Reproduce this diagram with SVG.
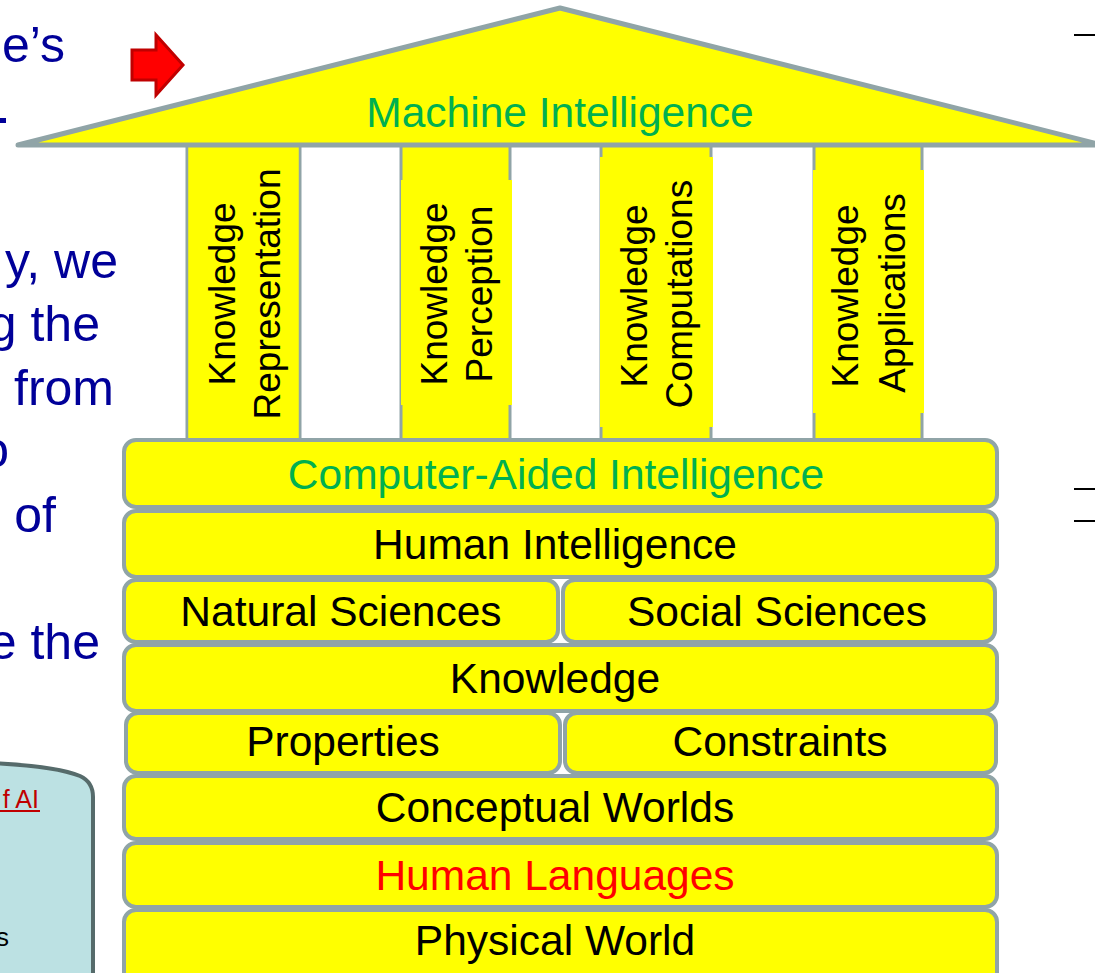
<svg xmlns="http://www.w3.org/2000/svg" width="1095" height="973" viewBox="0 0 1095 973">
<style>
.t{font-family:"Liberation Sans",Arial,sans-serif;}
.row{fill:#FFFF00;stroke:#90A4A7;stroke-width:4;}
.rt{font-size:42.5px;fill:#000;text-anchor:middle;}
.pt{font-size:37px;fill:#000;text-anchor:middle;}
.pil{fill:#FFFF00;stroke:#90A4A7;stroke-width:3;}
.ov{fill:#FFFF00;}
.side{font-size:50px;fill:#000099;text-anchor:end;}
</style>
<rect width="1095" height="973" fill="#FFFFFF"/>
<g id="left-text" class="t">
<text class="side" x="65" y="62">e’s</text>
<rect x="0" y="118" width="6" height="5" fill="#000099"/>
<text class="side" x="118" y="278">y, we</text>
<text class="side" x="100" y="341">g the</text>
<text class="side" x="114" y="405">from</text>
<text class="side" x="9" y="467">o</text>
<text class="side" x="56" y="532">of</text>
<text class="side" x="100" y="659">e the</text>
</g>
<g id="side-box">
<path d="M -10 763 Q 55 766 80 776 Q 93 782 93 797 L 93 980 L -10 980 Z" fill="#BCE1E3" stroke="#566B6B" stroke-width="4"/>
<text class="t" x="39" y="808" font-size="25" fill="#C00000" text-anchor="end">f AI</text>
<rect x="0" y="810" width="40" height="2" fill="#C00000"/>
<text class="t" x="9" y="946" font-size="26" fill="#000" text-anchor="end">s</text>
</g>
<g id="arrow">
<path d="M 132 50 L 156 50 L 156 35 L 183 65 L 156 95 L 156 80 L 132 80 Z" fill="#FF0000" stroke="#C00000" stroke-width="3" stroke-linejoin="miter"/>
</g>
<g id="right-marks" stroke="#000" stroke-width="2">
<line x1="1074" y1="35" x2="1095" y2="35"/>
<line x1="1074" y1="489" x2="1095" y2="489"/>
<line x1="1074" y1="521" x2="1095" y2="521"/>
</g>
<g id="pillar-representation">
<rect class="pil" x="187" y="145" width="113" height="295"/>
<rect class="ov" x="188.5" y="147" width="110" height="291"/>
<text class="t pt" transform="translate(235,294) rotate(-90)">Knowledge</text>
<text class="t pt" transform="translate(280,294) rotate(-90)">Representation</text>
</g>
<g id="pillar-perception">
<rect class="pil" x="401" y="145" width="109" height="295"/>
<rect class="ov" x="401" y="180" width="111" height="225"/>
<text class="t pt" transform="translate(447,294) rotate(-90)">Knowledge</text>
<text class="t pt" transform="translate(492,294) rotate(-90)">Perception</text>
</g>
<g id="pillar-computations">
<rect class="pil" x="601" y="145" width="110" height="295"/>
<rect class="ov" x="600" y="157" width="113" height="270"/>
<text class="t pt" transform="translate(647,296) rotate(-90)">Knowledge</text>
<text class="t pt" transform="translate(692,294) rotate(-90)">Computations</text>
</g>
<g id="pillar-applications">
<rect class="pil" x="814" y="145" width="108" height="295"/>
<rect class="ov" x="813" y="170" width="111" height="243"/>
<text class="t pt" transform="translate(858,296) rotate(-90)">Knowledge</text>
<text class="t pt" transform="translate(905,293) rotate(-90)">Applications</text>
</g>
<g id="roof">
<path d="M 18 145 L 560 8 L 1102 145 Z" fill="#FFFF00" stroke="#90A4A7" stroke-width="5" stroke-linejoin="round"/>
<text class="t" x="560" y="127" font-size="42.5" fill="#00B050" text-anchor="middle">Machine Intelligence</text>
</g>
<g id="computer-aided-intelligence">
<rect class="row" x="124" y="440" width="873" height="67" rx="12"/>
<text class="t rt" x="556" y="489" style="fill:#00B050">Computer-Aided Intelligence</text>
</g>
<g id="human-intelligence">
<rect class="row" x="124" y="511" width="873" height="66" rx="12"/>
<text class="t rt" x="555" y="559">Human Intelligence</text>
</g>
<g id="natural-sciences">
<rect class="row" x="124" y="580" width="434" height="62" rx="12"/>
<text class="t rt" x="341" y="626">Natural Sciences</text>
</g>
<g id="social-sciences">
<rect class="row" x="563" y="580" width="432" height="62" rx="12"/>
<text class="t rt" x="777" y="626">Social Sciences</text>
</g>
<g id="knowledge">
<rect class="row" x="124" y="645" width="873" height="66" rx="12"/>
<text class="t rt" x="555" y="693">Knowledge</text>
</g>
<g id="properties">
<rect class="row" x="126" y="713" width="434" height="60" rx="12"/>
<text class="t rt" x="343" y="756">Properties</text>
</g>
<g id="constraints">
<rect class="row" x="565" y="713" width="431" height="60" rx="12"/>
<text class="t rt" x="780" y="756">Constraints</text>
</g>
<g id="conceptual-worlds">
<rect class="row" x="124" y="776" width="873" height="63" rx="12"/>
<text class="t rt" x="555" y="822">Conceptual Worlds</text>
</g>
<g id="human-languages">
<rect class="row" x="124" y="843" width="873" height="64" rx="12"/>
<text class="t rt" x="555" y="890" style="fill:#FF0000">Human Languages</text>
</g>
<g id="physical-world">
<rect class="row" x="124" y="910" width="873" height="75" rx="12"/>
<text class="t rt" x="555" y="955">Physical World</text>
</g>
<g id="connectors"></g>
</svg>
